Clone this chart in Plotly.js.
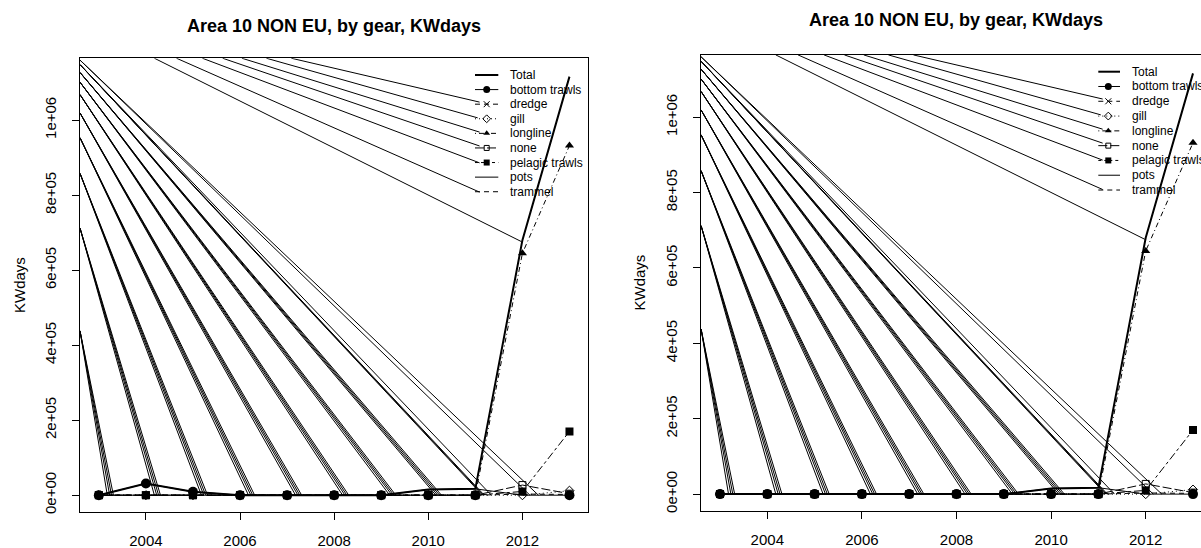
<!DOCTYPE html>
<html>
<head>
<meta charset="utf-8">
<script src="https://cdn.plot.ly/plotly-3.0.1.min.js"></script>
<style>html,body{margin:0;padding:0;background:#fff}#chart{width:1201px;height:548px}</style>
</head>
<body>
<div id="chart"></div>
<script>
// ---------------- data ----------------
const years = [2003, 2004, 2005, 2006, 2007, 2008, 2009, 2010, 2011, 2012, 2013];
const totalLeft  = [0, 31000, 9000, 0, 0, 0, 0, 15000, 17000, 680000, 1116000];
const totalRight = [0, 0, 0, 0, 0, 0, 0, 15000, 17000, 680000, 1116000];
const bottomTrawlsLeft  = [0, 31000, 9000, 0, 0, 0, 0, 0, 0, null, 0];
const bottomTrawlsRight = [0, 0, 0, 0, 0, 0, 0, 0, 0, null, 0];
const dredge        = [0, 0, 0, 0, 0, 0, 0, 0, 0, null, null];
const gill          = [0, 0, 0, 0, 0, 0, 0, 0, 0, 0, 12000];
const longline      = [0, 0, 0, 0, 0, 0, 0, 0, 0, 645000, 932000];
const none          = [0, 0, 0, 0, 0, 0, 0, 0, 0, 27000, 4000];
const pelagicTrawls = [0, 0, 0, 0, 0, 0, 0, 0, 0, 10000, 170000];
const pots          = [0, 0, 0, 0, 0, 0, 0, 15000, 17000, 0, 0];
const trammel       = [0, 0, 0, 0, 0, 0, 0, 0, 0, 3000, 2000];

const xTickVals = [2004, 2006, 2008, 2010, 2012];
const xTickText = ['2004', '2006', '2008', '2010', '2012'];
const yTickVals = [0, 200000, 400000, 600000, 800000, 1000000];
const yTickText = ['0e+00', '2e+05', '4e+05', '6e+05', '8e+05', '1e+06'];

// stray line bundles: enter at the left edge, end on zero just after each year
const bundleEntryX = 2002.6;
const bundleEntryY = [438000, 712000, 858000, 953000, 1019000, 1068000, 1101000, 1127000, 1148000, 1160000];
const bundleEndYears = [2003, 2004, 2005, 2006, 2007, 2008, 2009, 2010, 2011, 2012];
const bundleEndOffsets = [
  [0.18, 0.23, 0.27, 0.31], [0.18, 0.23, 0.27, 0.31], [0.18, 0.23, 0.27, 0.31], [0.18, 0.23, 0.27, 0.31],
  [0.18, 0.23, 0.27, 0.31], [0.18, 0.23, 0.27, 0.31], [0.18, 0.23, 0.27, 0.31], [0.16, 0.20, 0.24, 0.28],
  [0.15, 0.17, 0.19, 0.34], [0.16, 0.34]
];
// stray lines from the top edge to the legend keys
const linkTopY = 1165000;
const linkStartX = [2007.09, 2006.56, 2006.04, 2005.63, 2005.20, 2004.65, 2004.18];
const linkEndX   = [2011.09, 2011.05, 2011.09, 2011.09, 2011.09, 2011.09, 2011.98];
const linkEndY   = [1048000, 1006000, 968000, 931000, 886000, 808000, 676000];

const legendLabels = ['Total', 'bottom trawls', 'dredge', 'gill', 'longline', 'none', 'pelagic trawls', 'pots', 'trammel'];
const titleText = 'Area 10 NON EU, by gear, KWdays';
const yLabel = 'KWdays';

// ---------------- styles ----------------
const W = 1201, H = 548;
const FONT = 'Liberation Sans, Arial, Helvetica, sans-serif';
const LTY = {solid: 'solid', dashed: '5px,4px', dotted: '1px,3px', dotdash: '1px,3px,5px,3px', longdash: '9px,3px', twodash: '3px,3px,8px,3px'};
// drawing order: bottom trawls last so its dots sit on top
const gearStyles = [
  {key: 'pots',          dash: LTY.solid,    symbol: null},
  {key: 'trammel',       dash: LTY.dashed,   symbol: null},
  {key: 'dredge',        dash: LTY.dashed,   symbol: 'x-thin-open', size: 7},
  {key: 'gill',          dash: LTY.dotted,   symbol: 'diamond-open',size: 7},
  {key: 'none',          dash: LTY.longdash, symbol: 'square-open', size: 7},
  {key: 'pelagic',       dash: LTY.twodash,  symbol: 'square',      size: 8},
  {key: 'longline',      dash: LTY.dotdash,  symbol: 'triangle-up', size: 8},
  {key: 'bottom',        dash: LTY.solid,    symbol: 'circle',      size: 10}
];
const legendKeys = [
  {dash: LTY.solid, w: 2, symbol: null, size: 0},
  {dash: LTY.solid, w: 1, symbol: 'circle', size: 7},
  {dash: LTY.dashed, w: 1, symbol: 'x-thin-open', size: 6},
  {dash: LTY.dotted, w: 1, symbol: 'diamond-open', size: 6},
  {dash: LTY.dotdash, w: 1, symbol: 'triangle-up', size: 6},
  {dash: LTY.longdash, w: 1, symbol: 'square-open', size: 5},
  {dash: LTY.twodash, w: 1, symbol: 'square', size: 6},
  {dash: LTY.solid, w: 1, symbol: null, size: 0},
  {dash: LTY.dashed, w: 1, symbol: null, size: 0}
];

// panel geometry in pixels
const panels = [
  {xa: 'x', ya: 'y', box: {l: 80, r: 588.3, t: 58.3, b: 512}, xr: [2002.6, 2013.4],
   total: totalLeft, bottom: bottomTrawlsLeft,
   legend: {x0: 475, x1: 498.3, xs: 486.7, xt: 507.5, y0: 75, dy: 14.59},
   titleX: 334, titleY: 26, ylabX: 19, ylabY: 285},
  {xa: 'x2', ya: 'y2', box: {l: 700.7, r: 1201, t: 55, b: 511}, xr: [2002.592, 2013.169],
   total: totalRight, bottom: bottomTrawlsRight,
   legend: {x0: 1098.3, x1: 1120, xs: 1108.3, xt: 1130, y0: 71.7, dy: 14.79},
   titleX: 956.4, titleY: 20.5, ylabX: 638.5, ylabY: 283}
];

function markerFor(symbol, size) {
  const open = symbol.indexOf('open') >= 0;
  return open
    ? {symbol: symbol, size: size, color: '#000', line: {color: '#000', width: 1}}
    : {symbol: symbol, size: size, color: '#000', line: {color: '#000', width: 0}};
}

const traces = [];
const annotations = [];
const layout = {
  width: W, height: H, margin: {l: 0, r: 0, t: 0, b: 0},
  paper_bgcolor: '#fff', plot_bgcolor: 'rgba(0,0,0,0)', showlegend: false,
  font: {family: FONT, color: '#000'}
};

panels.forEach((p, i) => {
  const sfx = i === 0 ? '' : '2';
  // stray bundles
  const bx = [], by = [];
  bundleEndYears.forEach((yr, k) => {
    bundleEndOffsets[k].forEach(off => {
      bx.push(bundleEntryX, yr + off, null);
      by.push(bundleEntryY[k], 0, null);
    });
  });
  traces.push({x: bx, y: by, xaxis: p.xa, yaxis: p.ya, mode: 'lines', line: {color: '#000', width: 1}, hoverinfo: 'skip'});
  const lx = [], ly = [];
  linkStartX.forEach((sx, k) => {
    lx.push(sx, linkEndX[k], null);
    ly.push(linkTopY, linkEndY[k], null);
  });
  traces.push({x: lx, y: ly, xaxis: p.xa, yaxis: p.ya, mode: 'lines', line: {color: '#000', width: 1}, hoverinfo: 'skip'});

  // total
  traces.push({x: years, y: p.total, xaxis: p.xa, yaxis: p.ya, mode: 'lines', line: {color: '#000', width: 2}});
  // gears
  const gearData = {bottom: p.bottom, dredge: dredge, gill: gill, longline: longline, none: none,
    pelagic: pelagicTrawls, pots: pots, trammel: trammel};
  gearStyles.forEach(g => {
    const t = {x: years, y: gearData[g.key], xaxis: p.xa, yaxis: p.ya,
      mode: g.symbol ? 'lines+markers' : 'lines', line: {color: '#000', width: 1, dash: g.dash}};
    if (g.symbol) t.marker = markerFor(g.symbol, g.size);
    traces.push(t);
  });

  // axes
  layout['xaxis' + sfx] = {
    domain: [p.box.l / W, p.box.r / W], range: p.xr, anchor: 'y' + sfx,
    tickmode: 'array', tickvals: xTickVals, ticktext: xTickText,
    ticks: 'outside', ticklen: 7, tickwidth: 1, tickcolor: '#000',
    showline: true, linecolor: '#000', linewidth: 1, mirror: true,
    showgrid: false, zeroline: false, fixedrange: true,
    tickfont: {family: FONT, size: 15, color: '#000'}, ticklabelstandoff: 8
  };
  layout['yaxis' + sfx] = {
    domain: [1 - p.box.b / H, 1 - p.box.t / H], range: [-44800, 1164800], anchor: 'x' + sfx,
    tickmode: 'array', tickvals: yTickVals, ticktext: yTickText, tickangle: -90,
    ticks: 'outside', ticklen: 7, tickwidth: 1, tickcolor: '#000',
    showline: true, linecolor: '#000', linewidth: 1, mirror: i === 0,
    showgrid: false, zeroline: false, fixedrange: true,
    tickfont: {family: FONT, size: 15, color: '#000'}, ticklabelstandoff: 10
  };

  // title and y label
  annotations.push({xref: 'paper', yref: 'paper', x: p.titleX / W, y: 1 - p.titleY / H,
    xanchor: 'center', yanchor: 'middle', showarrow: false,
    text: '<b>' + titleText + '</b>', font: {family: FONT, size: 18, color: '#000'}});
  annotations.push({xref: 'paper', yref: 'paper', x: p.ylabX / W, y: 1 - p.ylabY / H,
    xanchor: 'center', yanchor: 'middle', showarrow: false, textangle: -90,
    text: yLabel, font: {family: FONT, size: 15, color: '#000'}});

  // legend drawn on a full-page pixel layer
  const L = p.legend;
  legendLabels.forEach((lab, k) => {
    const yy = L.y0 + k * L.dy;
    const key = legendKeys[k];
    traces.push({x: [L.x0, L.x1], y: [yy, yy], xaxis: 'x3', yaxis: 'y3', mode: 'lines',
      line: {color: '#000', width: key.w, dash: key.dash}, hoverinfo: 'skip'});
    if (key.symbol) {
      traces.push({x: [L.xs], y: [yy], xaxis: 'x3', yaxis: 'y3', mode: 'markers',
        marker: markerFor(key.symbol, key.size), hoverinfo: 'skip'});
    }
    annotations.push({xref: 'paper', yref: 'paper', x: L.xt / W, y: 1 - yy / H,
      xanchor: 'left', yanchor: 'middle', showarrow: false, text: lab,
      font: {family: FONT, size: 12, color: '#000'}});
  });
});

layout.xaxis3 = {domain: [0, 1], range: [0, W], visible: false, fixedrange: true, anchor: 'y3'};
layout.yaxis3 = {domain: [0, 1], range: [H, 0], visible: false, fixedrange: true, anchor: 'x3'};
layout.annotations = annotations;

Plotly.newPlot('chart', traces, layout, {displayModeBar: false, staticPlot: true});
</script>
</body>
</html>
